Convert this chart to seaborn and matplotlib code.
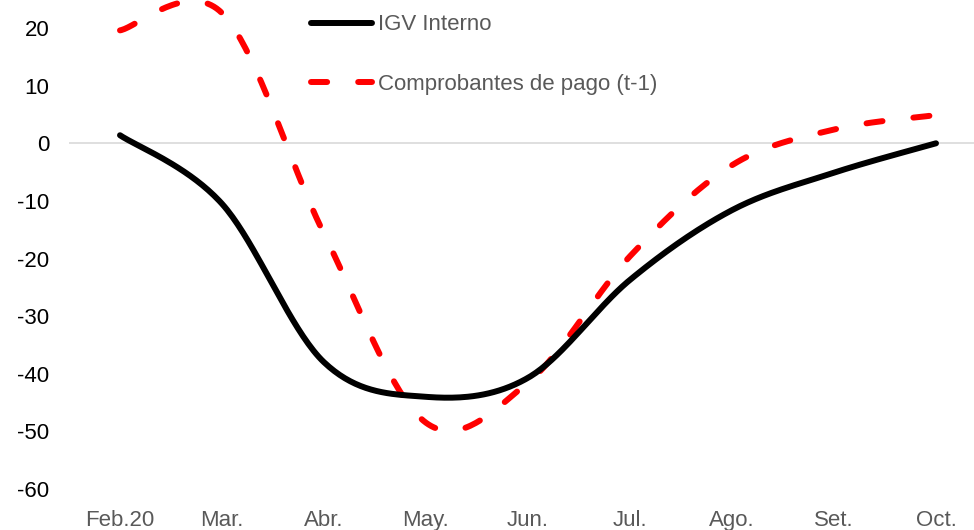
import numpy as np
import pandas as pd
import seaborn as sns
import matplotlib.pyplot as plt

# datos
meses = ["Feb.20", "Mar.", "Abr.", "May.", "Jun.", "Jul.", "Ago.", "Set.", "Oct."]
igv_interno = [1.4, -10.5, -38.0, -44.0, -40.7, -23.7, -11.6, -5.1, 0.0]
comprobantes = [19.6, 22.6, -15.7, -48.5, -41.5, -19.6, -3.8, 2.4, 4.9]


def suavizar(y, n=40):
    # curva suavizada tipo Excel (bezier entre puntos consecutivos)
    x = np.arange(len(y), dtype=float)
    p = np.column_stack([x, np.asarray(y, dtype=float)])
    pts = []
    for i in range(len(p) - 1):
        p0 = p[max(i - 1, 0)]
        p1 = p[i]
        p2 = p[i + 1]
        p3 = p[min(i + 2, len(p) - 1)]
        c1 = p1 + (p2 - p0) / 6
        c2 = p2 - (p3 - p1) / 6
        t = np.linspace(0, 1, n)[:, None]
        seg = (1 - t) ** 3 * p1 + 3 * (1 - t) ** 2 * t * c1 + 3 * (1 - t) * t ** 2 * c2 + t ** 3 * p2
        pts.append(seg if i == 0 else seg[1:])
    return np.vstack(pts)


sns.set_theme(style="white")
plt.rcParams["font.family"] = ["Liberation Sans", "DejaVu Sans"]
plt.rcParams["axes.unicode_minus"] = False

fig = plt.figure(figsize=(9.74, 5.30), dpi=100)
ax = fig.add_axes([69 / 974, 1 - 489 / 530, 918 / 974, 489 / 530])

ax.axhline(0, color="#D9D9D9", lw=1.2, zorder=1)

c_igv = suavizar(igv_interno)
c_comp = suavizar(comprobantes)
df_igv = pd.DataFrame({"x": c_igv[:, 0], "y": c_igv[:, 1]})
df_comp = pd.DataFrame({"x": c_comp[:, 0], "y": c_comp[:, 1]})

sns.lineplot(data=df_igv, x="x", y="y", sort=False, ax=ax, color="black",
             lw=4.3, label="IGV Interno", solid_capstyle="round", zorder=3)
sns.lineplot(data=df_comp, x="x", y="y", sort=False, ax=ax, color="#FF0000",
             lw=4.3, label="Comprobantes de pago (t-1)", zorder=2)
ax.lines[-1].set_dashes((2.7, 5.2))
ax.lines[-1].set_dash_capstyle("round")

ax.set_xlim(-0.5, len(meses) - 0.5)
ax.set_ylim(-60, 24.87)
ax.set_xticks(range(len(meses)))
ax.set_xticklabels(meses)
ax.set_yticks(range(-60, 21, 10))
ax.tick_params(axis="x", length=0, pad=15, labelsize=16, labelcolor="#595959")
ax.tick_params(axis="y", length=0, pad=14, labelsize=16, labelcolor="black")
ax.set_xlabel("")
ax.set_ylabel("")
for s in ax.spines.values():
    s.set_visible(False)

leg = ax.legend(loc="upper left", bbox_to_anchor=(311 / 974, 1 - 14.5 / 530),
                bbox_transform=fig.transFigure, frameon=False, fontsize=16,
                handlelength=2.75, handletextpad=0.25, labelspacing=1.72,
                borderpad=0, borderaxespad=0)
for t in leg.get_texts():
    t.set_color("#595959")
for h in leg.get_lines():
    h.set_linewidth(4.3)
leg.get_lines()[1].set_dashes((2.7, 5.2))
leg.get_lines()[1].set_dash_capstyle("round")

fig.savefig("out.png", dpi=100)
